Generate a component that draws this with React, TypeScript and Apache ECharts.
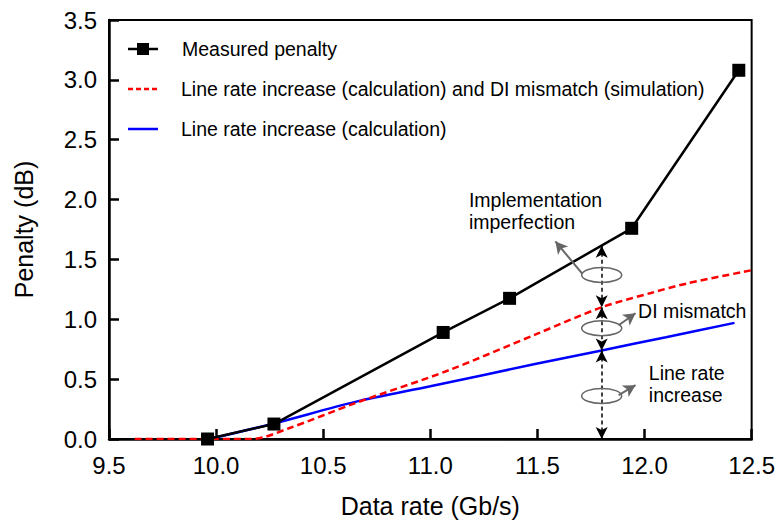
import React, { useEffect, useRef } from "react";
import * as echarts from "echarts";

const FONT = "'Liberation Sans', Arial, sans-serif";

const measuredX = [9.96, 10.27, 11.06, 11.37, 11.94, 12.44];
const measuredY = [0.0, 0.125, 0.89, 1.175, 1.76, 3.08];

const redX = [9.62, 10.17, 10.34, 10.65, 11.08, 11.5, 11.8, 12.03, 12.2, 12.5];
const redY = [0.0, 0.0, 0.09, 0.3, 0.57, 0.88, 1.1, 1.22, 1.3, 1.41];

const blueX = [9.97, 10.27, 10.65, 11.0, 11.5, 11.8, 12.1, 12.42];
const blueY = [0.0, 0.13, 0.31, 0.44, 0.63, 0.74, 0.85, 0.97];

const seriesNames = [
  "Measured penalty",
  "Line rate increase (calculation) and DI mismatch (simulation)",
  "Line rate increase (calculation)",
];

// annotation (data coords)
const arrowX = 11.8;
const arrowLevels = [1.615, 1.1, 0.74, 0.0];
const ellipseY = [1.37, 0.925, 0.36];
const grayArrows = [
  [[11.71, 1.38], [11.584, 1.65]],
  [[11.879, 0.95], [11.958, 1.05]],
  [[11.879, 0.367], [11.958, 0.45]],
];
const annoTexts = [
  { lines: ["Implementation", "imperfection"], at: [11.18, 1.995] },
  { lines: ["DI mismatch"], at: [11.97, 1.07] },
  { lines: ["Line rate", "increase"], at: [12.02, 0.55] },
];

const zip = (xs: number[], ys: number[]) => xs.map((x, i) => [x, ys[i]]);

export default function App() {
  const ref = useRef<HTMLDivElement>(null);
  useEffect(() => {
    if (!ref.current) return;
    const chart = echarts.init(ref.current, undefined, { renderer: "svg" });
    const markArrows: any[] = [];
    for (let i = 0; i < arrowLevels.length - 1; i++) {
      markArrows.push([
        { coord: [arrowX, arrowLevels[i]] },
        { coord: [arrowX, arrowLevels[i + 1]] },
      ]);
    }
    chart.setOption({
      animation: false,
      backgroundColor: "#fff",
      textStyle: { fontFamily: FONT },
      grid: {
        left: 109,
        right: 26,
        top: 20,
        bottom: 82,
        show: true,
        borderColor: "#000",
        borderWidth: 2,
      },
      xAxis: {
        type: "value",
        min: 9.5,
        max: 12.5,
        interval: 0.5,
        name: "Data rate (Gb/s)",
        nameLocation: "middle",
        nameGap: 54,
        nameTextStyle: { fontFamily: FONT, fontSize: 25, color: "#000" },
        axisLine: { lineStyle: { color: "#000", width: 2.5 } },
        axisTick: { inside: true, length: 10, lineStyle: { color: "#000", width: 2.5 } },
        axisLabel: {
          fontFamily: FONT,
          fontSize: 24,
          color: "#000",
          margin: 14,
          formatter: (v: number) => v.toFixed(1),
        },
        splitLine: { show: false },
      },
      yAxis: {
        type: "value",
        min: 0,
        max: 3.5,
        interval: 0.5,
        name: "Penalty (dB)",
        nameLocation: "middle",
        nameGap: 73,
        nameTextStyle: { fontFamily: FONT, fontSize: 25, color: "#000" },
        axisLine: { lineStyle: { color: "#000", width: 2.5 } },
        axisTick: { inside: true, length: 10, lineStyle: { color: "#000", width: 2.5 } },
        axisLabel: {
          fontFamily: FONT,
          fontSize: 24,
          color: "#000",
          margin: 12,
          formatter: (v: number) => v.toFixed(1),
        },
        splitLine: { show: false },
      },
      series: [
        {
          name: seriesNames[2],
          type: "line",
          data: zip(blueX, blueY),
          showSymbol: false,
          symbol: "none",
          smooth: 0.3,
          lineStyle: { color: "#0000ff", width: 2.5 },
          itemStyle: { color: "#0000ff" },
          z: 2,
        },
        {
          name: seriesNames[1],
          type: "line",
          data: zip(redX, redY),
          showSymbol: false,
          symbol: "none",
          smooth: 0.3,
          lineStyle: { color: "#ff0000", width: 2.5, type: [7, 4] },
          itemStyle: { color: "#ff0000" },
          z: 3,
        },
        {
          name: seriesNames[0],
          type: "line",
          data: zip(measuredX, measuredY),
          symbol: "rect",
          symbolSize: 13,
          lineStyle: { color: "#000", width: 2.5 },
          itemStyle: { color: "#000" },
          z: 4,
        },
        {
          name: "annotations",
          type: "line",
          data: [],
          silent: true,
          markLine: {
            silent: true,
            animation: false,
            symbol: ["arrow", "arrow"],
            symbolSize: [9, 12],
            label: { show: false },
            lineStyle: { color: "#000", type: [4, 3], width: 1.5 },
            data: markArrows,
          },
          z: 5,
        },
        {
          name: "grayArrows",
          type: "line",
          data: [],
          silent: true,
          markLine: {
            silent: true,
            animation: false,
            symbol: ["none", "arrow"],
            symbolSize: [10, 12],
            label: { show: false },
            lineStyle: { color: "#666", type: "solid", width: 2 },
            itemStyle: { color: "#666" },
            data: grayArrows.map(([a, b]) => [{ coord: a }, { coord: b }]),
          },
          z: 5,
        },
      ],
    });

    const graphics: any[] = [];
    // legend (manual)
    const legendRows = [49, 89, 129];
    const legendStyles = [
      { stroke: "#000", lineWidth: 2.5, lineDash: null as any, marker: true },
      { stroke: "#ff0000", lineWidth: 2.5, lineDash: [5, 3], marker: false },
      { stroke: "#0000ff", lineWidth: 2.5, lineDash: null as any, marker: false },
    ];
    seriesNames.forEach((name, i) => {
      const y = legendRows[i];
      const st = legendStyles[i];
      graphics.push({
        type: "line",
        shape: { x1: 128, y1: y, x2: 158, y2: y },
        style: { stroke: st.stroke, lineWidth: st.lineWidth, lineDash: st.lineDash },
        z: 10,
        silent: true,
      });
      if (st.marker) {
        graphics.push({
          type: "rect",
          shape: { x: 137, y: y - 6, width: 12, height: 12 },
          style: { fill: "#000" },
          z: 11,
          silent: true,
        });
      }
      graphics.push({
        type: "text",
        x: i === 0 ? 182 : 181,
        y,
        style: {
          text: name,
          fontFamily: FONT,
          fontSize: 19.5,
          fill: "#000",
          textAlign: "left",
          textVerticalAlign: "middle",
        },
        z: 10,
        silent: true,
      });
    });
    ellipseY.forEach((y) => {
      const [cx, cy] = chart.convertToPixel({ gridIndex: 0 }, [arrowX, y]) as number[];
      graphics.push({
        type: "ellipse",
        shape: { cx, cy, rx: 20, ry: 7.5 },
        style: { fill: "none", stroke: "#666", lineWidth: 1.5 },
        z: 10,
        silent: true,
      });
    });
    annoTexts.forEach((t) => {
      const [px, py] = chart.convertToPixel({ gridIndex: 0 }, t.at) as number[];
      t.lines.forEach((line, i) => {
        graphics.push({
          type: "text",
          x: px,
          y: py + i * 22,
          style: {
            text: line,
            fontFamily: FONT,
            fontSize: 19.5,
            fill: "#000",
            textAlign: "left",
            textVerticalAlign: "middle",
          },
          z: 10,
          silent: true,
        });
      });
    });
    chart.setOption({ graphic: graphics });

    return () => chart.dispose();
  }, []);
  return (
    <div
      ref={ref}
      style={{ position: "fixed", left: 0, top: 0, width: 778, height: 523 }}
    />
  );
}
